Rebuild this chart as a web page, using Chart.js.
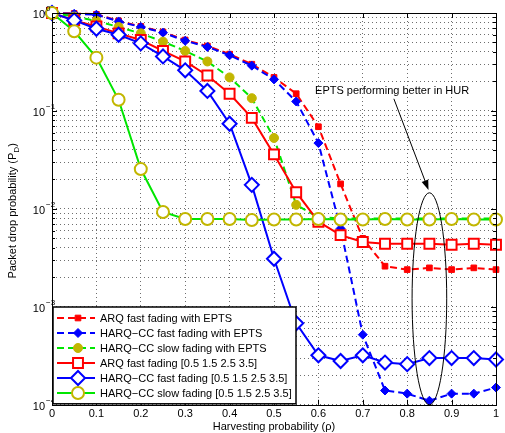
<!DOCTYPE html>
<html>
<head>
<meta charset="utf-8">
<script src="https://cdn.jsdelivr.net/npm/chart.js@4.4.1/dist/chart.umd.min.js"></script>
<style>
  html, body { margin: 0; padding: 0; background: #fff; }
  canvas { display: block; }
</style>
</head>
<body>
<canvas id="pd-chart" width="505" height="433"></canvas>
<script>
// harvesting probability (x) and packet drop probability per scheme (y)
const harvestProb = [0, 0.05, 0.1, 0.15, 0.2, 0.25, 0.3, 0.35, 0.4, 0.45, 0.5,
  0.55, 0.6, 0.65, 0.7, 0.75, 0.8, 0.85, 0.9, 0.95, 1];

const arqFastEpts = [1, 0.99, 0.97, 0.83, 0.73, 0.64, 0.53, 0.46, 0.38, 0.3, 0.22,
  0.15, 0.069, 0.018, 0.005, 0.0026, 0.0024, 0.0025, 0.0024, 0.0025, 0.0024];
const harqFastEpts = [1, 0.98, 0.96, 0.82, 0.72, 0.63, 0.52, 0.45, 0.37, 0.29, 0.21,
  0.125, 0.047, 0.0063, 0.00052, 0.00014, 0.00013, 0.00011, 0.00013, 0.00013, 0.00015];
const harqSlowEpts = [1, 0.92, 0.83, 0.72, 0.62, 0.51, 0.41, 0.32, 0.22, 0.135, 0.053,
  0.011, 0.0082, 0.008, 0.008, 0.008, 0.008, 0.008, 0.008, 0.008, 0.008];
const arqFast = [1, 0.84, 0.73, 0.62, 0.53, 0.41, 0.32, 0.23, 0.15, 0.085, 0.036,
  0.0148, 0.0074, 0.0054, 0.0046, 0.0044, 0.0044, 0.0044, 0.0043, 0.0044, 0.0043];
const harqFast = [1, 0.84, 0.69, 0.6, 0.49, 0.36, 0.26, 0.16, 0.074, 0.0176, 0.0031,
  0.00068, 0.00032, 0.00028, 0.00032, 0.00027, 0.00026, 0.0003, 0.0003, 0.0003, 0.00029];
const harqSlow = [1, 0.65, 0.35, 0.13, 0.0255, 0.0093, 0.0079, 0.0079, 0.0079, 0.0077, 0.0078,
  0.0078, 0.0079, 0.0078, 0.0078, 0.0079, 0.0078, 0.0078, 0.0079, 0.0078, 0.0078];

const seriesNames = [
  "ARQ fast fading with EPTS",
  "HARQ\u2212CC fast fading with EPTS",
  "HARQ\u2212CC slow fading with EPTS",
  "ARQ fast fading [0.5 1.5 2.5 3.5]",
  "HARQ\u2212CC fast fading [0.5 1.5 2.5 3.5]",
  "HARQ\u2212CC slow fading [0.5 1.5 2.5 3.5]",
];

const xTicks = [0, 0.1, 0.2, 0.3, 0.4, 0.5, 0.6, 0.7, 0.8, 0.9, 1];
const yMajorTicks = [1, 0.1, 0.01, 0.001, 0.0001];
const yExponents = ["0", "\u22121", "\u22122", "\u22123", "\u22124"];

const xTitle = "Harvesting probability (\u03c1)";
const yTitle = "Packet drop probability (P";
const yTitleSub = "D";
const calloutText = "EPTS performing better in HUR";

const FONT = "'Liberation Sans', Arial, Helvetica, sans-serif";
const RED = "#ff0000";
const BLUE = "#0000ff";
const GREEN = "#00e600";
const OLIVE = "#c2b600";

let makePoints = (ys) => harvestProb.map((x, i) => ({ x: x, y: ys[i] }));

let allLogTicks = () => {
  let ticks = [];
  for (let e = -4; e < 0; e++) {
    for (let m = 1; m < 10; m++) ticks.push({ value: m * Math.pow(10, e) });
  }
  ticks.push({ value: 1 });
  return ticks;
};

let dash = [7, 4];
let datasets = [
  { data: arqFastEpts, color: RED, dash: dash, style: "rect", r: 4, fill: RED, mark: RED },
  { data: harqFastEpts, color: BLUE, dash: dash, style: "rectRot", r: 4.5, fill: BLUE, mark: BLUE },
  { data: harqSlowEpts, color: GREEN, dash: dash, style: "circle", r: 4.5, fill: OLIVE, mark: OLIVE },
  { data: arqFast, color: RED, dash: [], style: "rect", r: 7, fill: "#fff", mark: RED },
  { data: harqFast, color: BLUE, dash: [], style: "rectRot", r: 7, fill: "#fff", mark: BLUE },
  { data: harqSlow, color: GREEN, dash: [], style: "circle", r: 6, fill: "#fff", mark: OLIVE },
].map((d, i) => ({
  label: seriesNames[i],
  data: makePoints(d.data),
  borderColor: d.color,
  borderWidth: 2,
  borderDash: d.dash,
  pointStyle: d.style,
  pointRadius: d.r,
  pointBackgroundColor: d.fill,
  pointBorderColor: d.mark,
  pointBorderWidth: d.fill === "#fff" ? 2 : 1,
  tension: 0,
  clip: false,
  order: 5 - i,
}));

let matlabFrame = {
  id: "matlabFrame",
  afterDatasetsDraw(chart) {
    const ctx = chart.ctx;
    const a = chart.chartArea;
    const xs = chart.scales.x;
    const ys = chart.scales.y;
    ctx.save();
    ctx.strokeStyle = "#000";
    ctx.lineWidth = 1;

    // inward tick marks
    ctx.beginPath();
    xTicks.forEach((v) => {
      const px = Math.round(xs.getPixelForValue(v)) + 0.5;
      ctx.moveTo(px, a.bottom); ctx.lineTo(px, a.bottom - 5);
      ctx.moveTo(px, a.top); ctx.lineTo(px, a.top + 5);
    });
    allLogTicks().forEach((t) => {
      const py = Math.round(ys.getPixelForValue(t.value)) + 0.5;
      const major = Math.abs(Math.log10(t.value) % 1) < 1e-9;
      const len = major ? 5 : 3;
      ctx.moveTo(a.left, py); ctx.lineTo(a.left + len, py);
      ctx.moveTo(a.right, py); ctx.lineTo(a.right - len, py);
    });
    ctx.stroke();

    // box
    ctx.strokeRect(Math.round(a.left) + 0.5, Math.round(a.top) + 0.5,
      Math.round(a.right - a.left), Math.round(a.bottom - a.top));

    // y tick labels 10^n
    ctx.fillStyle = "#000";
    ctx.textBaseline = "middle";
    yMajorTicks.forEach((v, i) => {
      const py = ys.getPixelForValue(v);
      ctx.font = "11px " + FONT;
      ctx.textAlign = "right";
      ctx.fillText("10", a.left - 7, py + 2);
      ctx.font = "8px " + FONT;
      ctx.textAlign = "left";
      ctx.fillText(yExponents[i], a.left - 6, py - 4);
    });

    // axis titles
    ctx.font = "11px " + FONT;
    ctx.textAlign = "center";
    ctx.fillText(xTitle, (a.left + a.right) / 2, 427);

    ctx.save();
    ctx.translate(13, (a.top + a.bottom) / 2 + 2);
    ctx.rotate(-Math.PI / 2);
    ctx.font = "11px " + FONT;
    const w1 = ctx.measureText(yTitle).width;
    ctx.font = "8px " + FONT;
    const w2 = ctx.measureText(yTitleSub).width;
    ctx.font = "11px " + FONT;
    const w3 = ctx.measureText(")").width;
    let x0 = -(w1 + w2 + w3) / 2;
    ctx.textAlign = "left";
    ctx.fillText(yTitle, x0, 0);
    ctx.font = "8px " + FONT;
    ctx.fillText(yTitleSub, x0 + w1, 4);
    ctx.font = "11px " + FONT;
    ctx.fillText(")", x0 + w1 + w2, 0);
    ctx.restore();
    ctx.restore();
  },
};

let callout = {
  id: "callout",
  afterDatasetsDraw(chart) {
    const ctx = chart.ctx;
    const xs = chart.scales.x;
    const ys = chart.scales.y;
    ctx.save();
    ctx.strokeStyle = "#000";
    ctx.fillStyle = "#000";
    ctx.lineWidth = 1;

    // ellipse around the high-harvesting region
    const cx = xs.getPixelForValue(0.85);
    const rx = xs.getPixelForValue(0.85 + 0.039) - cx;
    const top = ys.getPixelForValue(0.0146);
    const bottom = ys.getPixelForValue(0.0001);
    ctx.beginPath();
    ctx.ellipse(cx, (top + bottom) / 2, rx, (bottom - top) / 2, 0, 0, Math.PI * 2);
    ctx.stroke();

    // arrow
    const x0 = xs.getPixelForValue(0.77), y0 = ys.getPixelForValue(0.133);
    const x1 = xs.getPixelForValue(0.848), y1 = ys.getPixelForValue(0.0156);
    const ang = Math.atan2(y1 - y0, x1 - x0);
    ctx.beginPath();
    ctx.moveTo(x0, y0);
    ctx.lineTo(x1 - 8 * Math.cos(ang), y1 - 8 * Math.sin(ang));
    ctx.stroke();
    ctx.beginPath();
    ctx.moveTo(x1, y1);
    ctx.lineTo(x1 - 10 * Math.cos(ang) + 3.5 * Math.sin(ang), y1 - 10 * Math.sin(ang) - 3.5 * Math.cos(ang));
    ctx.lineTo(x1 - 10 * Math.cos(ang) - 3.5 * Math.sin(ang), y1 - 10 * Math.sin(ang) + 3.5 * Math.cos(ang));
    ctx.closePath();
    ctx.fill();

    ctx.font = "11px " + FONT;
    ctx.textAlign = "center";
    ctx.textBaseline = "middle";
    ctx.fillText(calloutText, xs.getPixelForValue(0.766), ys.getPixelForValue(0.161));
    ctx.restore();
  },
};

let boxLegend = {
  id: "boxLegend",
  afterDraw(chart) {
    const ctx = chart.ctx;
    const a = chart.chartArea;
    const left = a.left + 1, top = 307, right = 296, bottom = a.bottom - 1;
    ctx.save();
    ctx.fillStyle = "#fff";
    ctx.fillRect(left, top, right - left, bottom - top);
    ctx.strokeStyle = "#000";
    ctx.lineWidth = 1.5;
    ctx.strokeRect(left, top, right - left, bottom - top);

    chart.data.datasets.forEach((ds, i) => {
      const y = 318 + i * 15;
      ctx.strokeStyle = ds.borderColor;
      ctx.lineWidth = 2;
      ctx.setLineDash(ds.borderDash);
      ctx.beginPath();
      ctx.moveTo(57, y);
      ctx.lineTo(95, y);
      ctx.stroke();
      ctx.setLineDash([]);
      ctx.fillStyle = ds.pointBackgroundColor;
      ctx.strokeStyle = ds.pointBorderColor;
      ctx.lineWidth = ds.pointBorderWidth;
      Chart.helpers.drawPoint(ctx, {
        pointStyle: ds.pointStyle,
        radius: ds.pointRadius,
        borderWidth: ds.pointBorderWidth,
        rotation: 0,
      }, 78, y);
      ctx.fillStyle = "#000";
      ctx.font = "11px " + FONT;
      ctx.textAlign = "left";
      ctx.textBaseline = "middle";
      ctx.fillText(ds.label, 100, y + 0.5);
    });
    ctx.restore();
  },
};

const gridStyle = { color: "#6e6e6e", lineWidth: 1, drawTicks: false };

const chart = new Chart(document.getElementById("pd-chart").getContext("2d"), {
  type: "line",
  data: { datasets: datasets },
  options: {
    responsive: false,
    animation: false,
    events: [],
    layout: { padding: { left: 52, right: 5, top: 13, bottom: 9 } },
    plugins: { legend: { display: false }, tooltip: { enabled: false } },
    scales: {
      x: {
        type: "linear",
        min: 0,
        max: 1,
        afterBuildTicks: (scale) => { scale.ticks = xTicks.map((v) => ({ value: v })); },
        ticks: {
          color: "#000",
          padding: 3,
          autoSkip: false,
          maxRotation: 0,
          font: { family: FONT, size: 11 },
          callback: (v) => String(parseFloat(v.toFixed(1))),
        },
        grid: gridStyle,
        border: { display: false, dash: [1, 3] },
      },
      y: {
        type: "logarithmic",
        min: 0.0001,
        max: 1,
        afterBuildTicks: (scale) => { scale.ticks = allLogTicks(); },
        ticks: { display: false },
        grid: gridStyle,
        border: { display: false, dash: [1, 3] },
      },
    },
  },
  plugins: [matlabFrame, callout, boxLegend],
});
</script>
</body>
</html>
